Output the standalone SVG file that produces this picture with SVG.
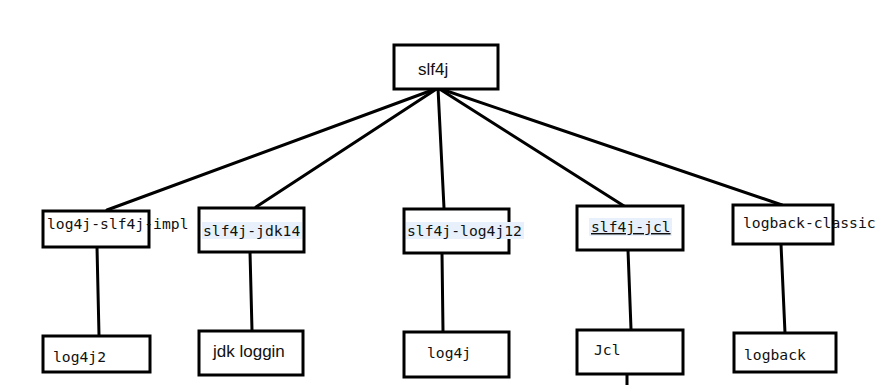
<svg xmlns="http://www.w3.org/2000/svg" width="895" height="385" viewBox="0 0 895 385">
<style>
.box{fill:#fff;stroke:#000;stroke-width:3}
.ln{stroke:#000;stroke-width:3;fill:none;stroke-linecap:round}
.mono{font-family:"DejaVu Sans Mono","Liberation Mono",monospace;font-size:14.7px;fill:#111}
.sans{font-family:"Liberation Sans",Arial,sans-serif;fill:#111}
.hl{fill:#e8f1fb}
</style>
<rect width="895" height="385" fill="#fff"/>
<g id="connectors">
<line class="ln" x1="438" y1="88" x2="107" y2="210"/>
<line class="ln" x1="438" y1="88" x2="256" y2="207"/>
<line class="ln" x1="438" y1="88" x2="444" y2="208"/>
<line class="ln" x1="438" y1="88" x2="624" y2="206"/>
<line class="ln" x1="438" y1="88" x2="782" y2="205"/>
<line class="ln" x1="97" y1="247" x2="99" y2="335"/>
<line class="ln" x1="250" y1="252" x2="252" y2="330"/>
<line class="ln" x1="442" y1="253" x2="443" y2="331"/>
<line class="ln" x1="628" y1="250" x2="631" y2="329"/>
<line class="ln" x1="781" y1="244" x2="785" y2="333"/>
<line class="ln" x1="627" y1="374" x2="627" y2="386"/>
</g>
<g id="slf4j">
<rect class="box" x="394" y="45" width="104" height="44"/>
<text class="sans" x="418" y="75" font-size="17">slf4j</text>
</g>
<g id="log4j-slf4j-impl">
<rect class="box" x="43" y="211" width="106" height="36"/>
<text class="mono" x="47" y="229">log4j-slf4j-impl</text>
</g>
<g id="slf4j-jdk14">
<rect class="box" x="199" y="208" width="105" height="44"/>
<rect class="hl" x="202" y="222" width="100" height="17"/>
<text class="mono" x="203" y="236">slf4j-jdk14</text>
</g>
<g id="slf4j-log4j12">
<rect class="box" x="404" y="209" width="105" height="44"/>
<rect class="hl" x="406" y="222" width="118" height="17"/>
<text class="mono" x="407" y="236">slf4j-log4j12</text>
</g>
<g id="slf4j-jcl">
<rect class="box" x="577" y="206" width="106" height="44"/>
<rect class="hl" x="589" y="218" width="83" height="18"/>
<text class="mono" x="591" y="232" text-decoration="underline">slf4j-jcl</text>
</g>
<g id="logback-classic">
<rect class="box" x="733" y="205" width="100" height="39"/>
<text class="mono" x="743" y="228">logback-classic</text>
</g>
<g id="log4j2">
<rect class="box" x="43" y="336" width="107" height="36"/>
<text class="mono" x="53" y="362">log4j2</text>
</g>
<g id="jdk-loggin">
<rect class="box" x="199" y="331" width="104" height="44"/>
<text class="sans" x="213" y="357" font-size="17">jdk loggin</text>
</g>
<g id="log4j">
<rect class="box" x="404" y="332" width="105" height="45"/>
<text class="mono" x="427" y="358">log4j</text>
</g>
<g id="Jcl">
<rect class="box" x="577" y="330" width="106" height="44"/>
<text class="mono" x="594" y="355">Jcl</text>
</g>
<g id="logback">
<rect class="box" x="734" y="333" width="102" height="39"/>
<text class="mono" x="744" y="360">logback</text>
</g>
</svg>
